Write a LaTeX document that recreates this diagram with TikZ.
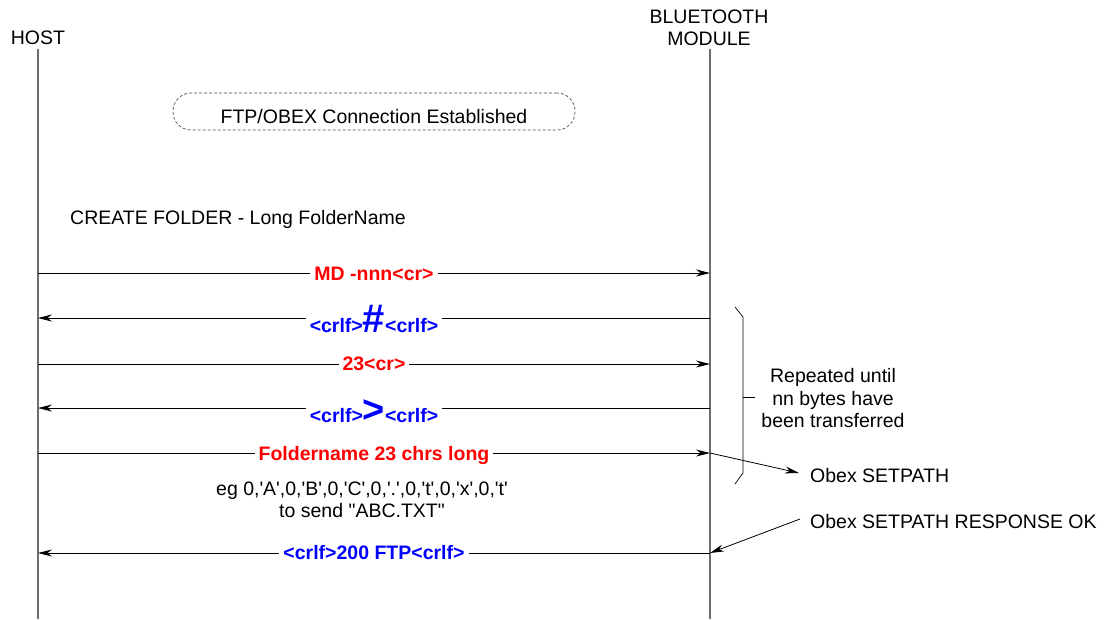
\documentclass[tikz,border=0pt]{standalone}
\usepackage{fontspec}
\newfontfamily\arialf{Liberation Sans}
\usetikzlibrary{arrows.meta}
\definecolor{lred}{RGB}{255,0,0}
\definecolor{lblue}{RGB}{0,0,255}
\definecolor{lifegray}{RGB}{110,110,110}
\begin{document}
\begin{tikzpicture}[x=1pt,y=-1pt,
  every node/.style={font=\arialf\fontsize{19.5}{22.5}\selectfont, inner sep=0pt},
  life/.style={draw=lifegray, line width=1.2pt},
  msg/.style={draw=black, line width=0.8pt, -{Stealth[length=14pt,width=7pt]}},
  rlbl/.style={fill=white, inner xsep=4pt, inner ysep=2pt, text=lred, font=\arialf\bfseries\fontsize{19.5}{22.5}\selectfont},
  blbl/.style={fill=white, inner xsep=4pt, inner ysep=2pt, text=lblue, font=\arialf\bfseries\fontsize{19.5}{22.5}\selectfont},
  note/.style={align=center}]
\useasboundingbox (0,0) rectangle (1116,619);
% participants
\node[anchor=base] (host) at (38,44) {HOST};
\node[anchor=base] (mod1) at (709,23) {BLUETOOTH};
\node[anchor=base] (mod2) at (709,45) {MODULE};
\coordinate (htop) at (38,49);
\coordinate (hbot) at (38,619);
\coordinate (mtop) at (710,49);
\coordinate (mbot) at (710,619);
\draw[life] (htop) -- (hbot);
\draw[life] (mtop) -- (mbot);
% connection box
\node[draw=black!70, dashed, dash pattern=on 3pt off 2pt, line width=0.7pt, rounded corners=18pt, minimum width=402pt, minimum height=37pt] (box) at (374,111.5) {};
\node[anchor=base] (boxtxt) at (374,123) {FTP/OBEX Connection Established};
\node[anchor=base west] (title) at (70,224) {CREATE FOLDER - Long FolderName};
% message coordinates
\foreach \n/\y in {1/273,2/318,3/364,4/408,5/453,6/553}{
  \coordinate (h\n) at (38,\y);
  \coordinate (m\n) at (710,\y);
}
\draw[msg] (h1) -- (m1);
\node[rlbl, anchor=base] (l1) at (374,280) {MD -nnn<cr>};
\draw[msg] (m2) -- (h2);
\node[blbl, anchor=base] (l2) at (374,332) {<crlf>{\fontsize{40}{40}\selectfont\#}<crlf>};
\draw[msg] (h3) -- (m3);
\node[rlbl, anchor=base] (l3) at (374,370) {23<cr>};
\draw[msg] (m4) -- (h4);
\node[blbl, anchor=base] (l4) at (374,422) {<crlf>{\fontsize{38}{38}\selectfont >}<crlf>};
\draw[msg] (h5) -- (m5);
\node[rlbl, anchor=base] (l5) at (374,460) {Foldername 23 chrs long};
\draw[msg] (m6) -- (h6);
\node[blbl, anchor=base] (l6) at (374,559) {<crlf>200 FTP<crlf>};
% example text
\node[anchor=base] (eg1) at (362,495) {eg 0,'A',0,'B',0,'C',0,'.',0,'t',0,'x',0,'t'};
\node[anchor=base] (eg2) at (362,517) {to send "ABC.TXT"};
% bracket
\coordinate (b1) at (735,307);
\coordinate (b2) at (743,317);
\coordinate (b3) at (743,473);
\coordinate (b4) at (735,484);
\coordinate (bm) at (743,397);
\coordinate (bt) at (755,397);
\draw[line width=0.7pt] (b1) -- (b2) -- (b3) -- (b4);
\draw[line width=0.7pt] (bm) -- (bt);
\node[anchor=base] (rep1) at (833,382) {Repeated until};
\node[anchor=base] (rep2) at (833,405) {nn bytes have};
\node[anchor=base] (rep3) at (833,427) {been transferred};
% obex notes
\node[anchor=base west] (setp) at (810,482) {Obex SETPATH};
\coordinate (sp) at (799,473);
\draw[msg] (m5) -- (sp);
\node[anchor=base west] (resp) at (810,528) {Obex SETPATH RESPONSE OK};
\coordinate (rp) at (800,519);
\draw[msg] (rp) -- (m6);
\end{tikzpicture}
\end{document}
